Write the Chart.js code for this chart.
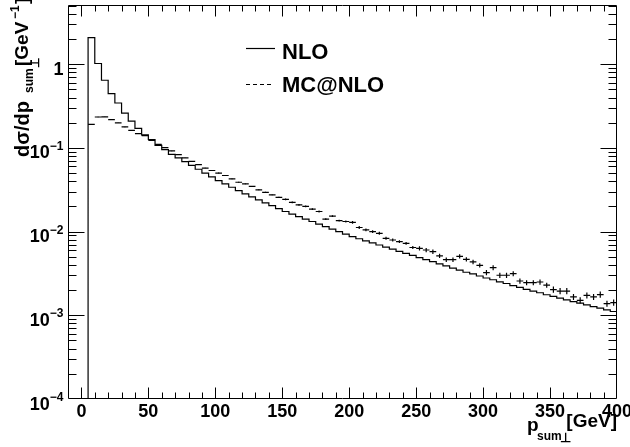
<!DOCTYPE html>
<html><head><meta charset="utf-8">
<script src="https://cdn.jsdelivr.net/npm/chart.js@4/dist/chart.umd.min.js"></script>
<style>html,body{margin:0;padding:0;background:#fff;}#wrap{width:630px;height:447px;position:relative;}</style>
</head><body><div id="wrap"><canvas id="c" width="630" height="447"></canvas></div>
<script>
// ---- data (bin lower edges, bin width 5 GeV) ----
const binLow = [5,10,15,20,25,30,35,40,45,50,55,60,65,70,75,80,85,90,95,100,
  105,110,115,120,125,130,135,140,145,150,155,160,165,170,175,180,185,190,195,200,
  205,210,215,220,225,230,235,240,245,250,255,260,265,270,275,280,285,290,295,300,
  305,310,315,320,325,330,335,340,345,350,355,360,365,370,375,380,385,390,395];
const binWidth = 5;
const nloValues = [2.08,1.02,0.643,0.446,0.344,0.261,0.209,0.171,0.143,0.126,0.107,0.0955,0.0839,0.0759,0.0684,0.0617,0.0556,0.0501,0.0452,0.0407,
  0.0372,0.0339,0.0309,0.0282,0.0260,0.0240,0.0221,0.0204,0.0188,0.0174,0.0162,0.0151,0.0141,0.0132,0.0123,0.0115,0.0107,0.0100,0.00933,0.00871,
  0.00822,0.00776,0.00733,0.00692,0.00653,0.00617,0.00582,0.00550,0.00519,0.00490,0.00462,0.00437,0.00412,0.00389,0.00367,0.00347,0.00327,0.00313,0.00295,0.00279,
  0.00266,0.00251,0.00240,0.00226,0.00216,0.00204,0.00195,0.00186,0.00176,0.00168,0.00160,0.00153,0.00146,0.00140,0.00133,0.00127,0.00122,0.00116,0.00111];
const mcValues = [0.191,0.234,0.235,0.218,0.199,0.178,0.162,0.148,0.140,0.123,0.110,0.101,0.092,0.083,0.0759,0.0692,0.0631,0.0575,0.0537,0.0501,
  0.0468,0.0427,0.0389,0.0372,0.0347,0.0316,0.0295,0.0275,0.0257,0.0243,0.0224,0.0209,0.0200,0.0186,0.0174,0.0141,0.0153,0.0135,0.0132,0.0129,
  0.0112,0.0105,0.0100,0.00955,0.00832,0.00794,0.00759,0.00724,0.00646,0.00631,0.00603,0.00575,0.00513,0.00462,0.00462,0.00507,0.00467,0.00434,0.00395,0.00324,
  0.00371,0.00301,0.00301,0.00315,0.00257,0.00246,0.00246,0.00250,0.00229,0.00203,0.00195,0.00195,0.00166,0.00151,0.00173,0.00166,0.00177,0.00138,0.00142];
const mcRelErr = [0.005,0.005,0.005,0.005,0.005,0.005,0.005,0.005,0.005,0.005,0.005,0.005,0.005,0.005,0.005,0.005,0.005,0.005,0.005,
  0.012,0.012,0.012,0.012,0.012,0.012,0.012,0.012,0.012,0.012,
  0.025,0.025,0.025,0.025,0.025,0.025,0.025,0.025,0.025,0.025,
  0.04,0.04,0.04,0.04,0.04,0.04,0.04,0.04,0.04,0.04,
  0.06,0.06,0.06,0.06,0.06,0.06,0.06,0.06,0.06,0.06,
  0.07,0.07,0.07,0.07,0.07,0.07,0.07,0.07,0.07,0.07,
  0.085,0.085,0.085,0.085,0.085,0.085,0.085,0.085,0.085,0.085];
const seriesNames = ['NLO','MC@NLO'];
const xTickValues = [0,50,100,150,200,250,300,350,400];
const xTickLabels = ['0','50','100','150','200','250','300','350','400'];
const yTickValues = [1e-4,1e-3,1e-2,1e-1,1];
const yTickBase = ['10','10','10','10','1'];
const yTickExp = ['\u22124','\u22123','\u22122','\u22121',''];

const FONT = '"Liberation Sans", Arial, Helvetica, sans-serif';

// ---- build library datasets ----
const nloData = [{x: binLow[0], y: 1e-7}];
binLow.forEach((lo,i)=>nloData.push({x: lo, y: nloValues[i]}));
nloData.push({x: binLow[binLow.length-1] + binWidth, y: nloValues[nloValues.length-1]});

const mcSeg = [], mcBars = [];
binLow.forEach((lo,i)=>{
  const v = mcValues[i], e = v*mcRelErr[i], c = lo + binWidth/2;
  mcSeg.push({x: lo, y: v}, {x: lo+binWidth, y: v}, {x: lo+binWidth, y: null});
  mcBars.push({x: c, y: v-e}, {x: c, y: v+e}, {x: c, y: null});
});

const decor = {
  id: 'decor',
  afterDraw(chart) {
    const ctx = chart.ctx, xs = chart.scales.x, ys = chart.scales.y, a = chart.chartArea;
    ctx.save();
    ctx.strokeStyle = '#000'; ctx.fillStyle = '#000'; ctx.lineWidth = 1;
    const L = a.left + 0.5, R = a.right - 0.5, T = a.top + 0.5, B = a.bottom - 0.5;
    ctx.beginPath(); ctx.rect(L, T, R-L, B-T); ctx.stroke();
    // x ticks
    ctx.beginPath();
    for (let v = 10; v < 400; v += 10) {
      const px = Math.round(xs.getPixelForValue(v)) + 0.5;
      const len = (v % 50 === 0) ? 11 : 6;
      ctx.moveTo(px, B); ctx.lineTo(px, B - len);
      ctx.moveTo(px, T); ctx.lineTo(px, T + len);
    }
    { const px = Math.round(xs.getPixelForValue(0)) + 0.5;
      ctx.moveTo(px, B); ctx.lineTo(px, B - 11); ctx.moveTo(px, T); ctx.lineTo(px, T + 11); }
    // y ticks
    yTickValues.forEach(d=>{
      for (let m = 1; m <= 9; m++) {
        const v = d*m; if (v > ys.max) break;
        const py = Math.round(ys.getPixelForValue(v)) + 0.5;
        if (py < a.top + 1 || py > a.bottom - 1) continue;
        const len = m === 1 ? 16 : 8;
        ctx.moveTo(L, py); ctx.lineTo(L + len, py);
        ctx.moveTo(R, py); ctx.lineTo(R - len, py);
      }
    });
    ctx.stroke();
    // x labels
    ctx.font = 'bold 18px ' + FONT; ctx.textAlign = 'center'; ctx.textBaseline = 'alphabetic';
    xTickValues.forEach((v,i)=>{ ctx.fillText(xTickLabels[i], xs.getPixelForValue(v), 417); });
    // y labels
    ctx.textAlign = 'left';
    yTickValues.forEach((v,i)=>{
      const py = ys.getPixelForValue(v);
      ctx.font = 'bold 12px ' + FONT; const ew = ctx.measureText(yTickExp[i]).width;
      ctx.font = 'bold 18px ' + FONT; const bw = ctx.measureText(yTickBase[i]).width;
      const x0 = 63.5 - ew - bw;
      ctx.fillText(yTickBase[i], x0, py + 10.5);
      if (yTickExp[i]) { ctx.font = 'bold 12px ' + FONT; ctx.fillText(yTickExp[i], x0 + bw, py + 2); }
    });
    // legend
    ctx.lineWidth = 1.2;
    ctx.beginPath(); ctx.moveTo(246, 48.5); ctx.lineTo(275, 48.5); ctx.stroke();
    ctx.setLineDash([4,3]);
    ctx.beginPath(); ctx.moveTo(246, 84.5); ctx.lineTo(273, 84.5); ctx.stroke();
    ctx.setLineDash([]);
    ctx.font = 'bold 22px ' + FONT;
    ctx.fillText(seriesNames[0], 282, 58.5);
    ctx.fillText(seriesNames[1], 282, 91.5);
    // x title
    ctx.font = 'bold 19px ' + FONT; ctx.fillText('p', 527, 431);
    ctx.font = 'bold 12px ' + FONT; ctx.fillText('sum', 537, 440);
    ctx.font = 'bold 13px ' + FONT; ctx.fillText('\u22a5', 560, 442);
    ctx.font = 'bold 19px ' + FONT; ctx.textAlign = 'right'; ctx.fillText('[GeV]', 617, 427);
    // y title (rotated)
    ctx.save();
    ctx.translate(29, 157); ctx.rotate(-Math.PI/2); ctx.textAlign = 'left';
    ctx.font = 'bold 20px ' + FONT; ctx.fillText('d\u03c3/dp', 0, 0);
    ctx.font = 'bold 12px ' + FONT; ctx.fillText('sum', 64, 4);
    ctx.font = 'bold 12px ' + FONT; ctx.fillText('\u22a5', 89, 10);
    ctx.font = 'bold 19px ' + FONT; ctx.fillText('[GeV', 91, -1);
    ctx.font = 'bold 12px ' + FONT; ctx.fillText('\u22121', 138, -10);
    ctx.font = 'bold 19px ' + FONT; ctx.fillText(']', 153, -1);
    ctx.restore();
    ctx.restore();
  }
};

new Chart(document.getElementById('c'), {
  type: 'line',
  data: { datasets: [
    { label: seriesNames[0], data: nloData, stepped: 'before', borderColor: '#000', borderWidth: 1.2, pointRadius: 0, fill: false },
    { label: seriesNames[1], data: mcSeg, borderColor: '#000', borderWidth: 1.2, pointRadius: 0, fill: false, spanGaps: false },
    { label: seriesNames[1] + ' err', data: mcBars, borderColor: '#000', borderWidth: 1.2, pointRadius: 0, fill: false, spanGaps: false }
  ]},
  options: {
    responsive: false, animation: false, devicePixelRatio: 1,
    layout: { padding: { left: 68, top: 5, right: 13, bottom: 48 } },
    scales: {
      x: { type: 'linear', min: -10, max: 400, display: false },
      y: { type: 'logarithmic', min: 1e-4, max: 5.1, display: false }
    },
    plugins: { legend: { display: false }, tooltip: { enabled: false } }
  },
  plugins: [decor]
});
</script></body></html>
